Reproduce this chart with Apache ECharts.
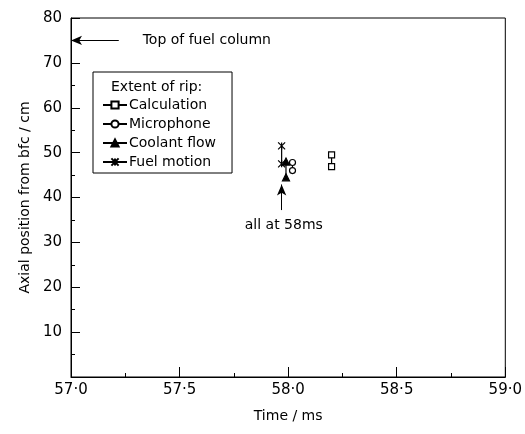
<!DOCTYPE html>
<html lang="en">

<head>
    <meta charset="UTF-8">
    <title>Extent of rip</title>
    <script src="https://cdn.jsdelivr.net/npm/echarts@6/dist/echarts.min.js"></script>
</head>

<body style="margin:0">
    <div id="main" style="width:525px; height:434px;"></div>
    <script type="text/javascript">
        var myChart = echarts.init(document.getElementById('main'));

        // x tick labels (the plot uses a raised decimal point)
        var timeLabels = ['57·0', '57·5', '58·0', '58·5', '59·0'];

        // each method gives a vertical extent [time, axial position]
        var calculation = [[58.20, 46.9], [58.20, 49.5]];
        var microphone = [[58.02, 46.0], [58.02, 47.8]];
        var coolantFlow = [[57.99, 44.5], [57.99, 48.0]];
        var fuelMotion = [[57.97, 47.5], [57.97, 51.5]];

        // annotations: arrows go from first point to second
        var fuelTop = [[57.22, 75], [57.0, 75]];
        var allAtArrow = [[57.97, 37.2], [57.97, 42.9]];
        var fuelTopNote = [57.33, 75, 'Top of fuel column'];
        var allAtNote = [57.98, 33.8, 'all at 58ms'];

        var font = 'DejaVu Sans';
        var crossPath = 'path://M0,0L10,10M10,0L0,10M5,0L5,10';

        function extent(name, data, symbol, size, fill) {
            return {
                name: name,
                type: 'line',
                data: data,
                symbol: symbol,
                symbolSize: size,
                lineStyle: { color: '#000', width: 1.2 },
                itemStyle: { color: fill, borderColor: '#000', borderWidth: 1.2 },
                z: 3
            };
        }

        function arrowLine(pts) {
            return [{ coord: pts[0] }, { coord: pts[1] }];
        }

        function note(d, align) {
            return {
                value: d,
                label: { align: align }
            };
        }

        myChart.setOption({
            backgroundColor: '#fff',
            animation: false,
            textStyle: { fontFamily: font, color: '#000' },
            grid: {
                left: 71,
                right: 17,
                top: 18,
                bottom: 57,
                show: true,
                borderColor: '#000',
                borderWidth: 1
            },
            legend: {
                orient: 'vertical',
                left: 93,
                top: 72,
                padding: [26, 16, 4, 9],
                itemWidth: 24,
                itemHeight: 9,
                itemGap: 5,
                borderColor: '#000',
                borderWidth: 1,
                borderRadius: 0,
                textStyle: { fontFamily: font, fontSize: 14, color: '#000', padding: [0, 0, 0, -3] },
                data: ['Calculation', 'Microphone', 'Coolant flow', 'Fuel motion']
            },
            graphic: [{
                type: 'text',
                left: 111,
                top: 80,
                style: { text: 'Extent of rip:', font: '14px "DejaVu Sans"', fill: '#000' }
            }],
            xAxis: {
                type: 'value',
                min: 57,
                max: 59,
                interval: 0.5,
                name: 'Time / ms',
                nameLocation: 'middle',
                nameGap: 32,
                nameTextStyle: { fontSize: 14, fontFamily: font },
                axisLine: { lineStyle: { color: '#000', width: 1 } },
                axisTick: { inside: true, length: 10, lineStyle: { color: '#000' } },
                minorTick: { show: true, splitNumber: 2, length: 4, lineStyle: { color: '#000' } },
                splitLine: { show: false },
                axisLabel: {
                    fontSize: 15,
                    color: '#000',
                    margin: 6,
                    formatter: function (v) {
                        return timeLabels[Math.round((v - 57) / 0.5)];
                    }
                }
            },
            yAxis: {
                type: 'value',
                min: 0,
                max: 80,
                interval: 10,
                name: 'Axial position from bfc / cm',
                nameLocation: 'middle',
                nameGap: 38,
                nameTextStyle: { fontSize: 14, fontFamily: font },
                axisLine: { lineStyle: { color: '#000', width: 1 } },
                axisTick: { inside: true, length: 9, lineStyle: { color: '#000' } },
                minorTick: { show: true, splitNumber: 2, length: 4, lineStyle: { color: '#000' } },
                splitLine: { show: false },
                axisLabel: {
                    fontSize: 15,
                    color: '#000',
                    margin: 9,
                    formatter: function (v) {
                        return v === 0 ? '' : v;
                    }
                }
            },
            series: [
                extent('Calculation', calculation, 'rect', 6, '#fff'),
                extent('Microphone', microphone, 'circle', 6, '#fff'),
                extent('Coolant flow', coolantFlow, 'triangle', 7, '#000'),
                extent('Fuel motion', fuelMotion, crossPath, 7, '#000'),
                {
                    name: 'notes',
                    type: 'scatter',
                    data: [note(fuelTopNote, 'left'), note(allAtNote, 'center')],
                    symbolSize: 0,
                    silent: true,
                    itemStyle: { opacity: 1 },
                    label: {
                        show: true,
                        fontSize: 14,
                        fontFamily: font,
                        color: '#000',
                        opacity: 1,
                        position: 'inside',
                        formatter: function (p) { return p.data.value[2]; }
                    },
                    markLine: {
                        silent: true,
                        symbol: ['none', 'arrow'],
                        symbolSize: [7, 11],
                        lineStyle: { color: '#000', width: 1, type: 'solid', opacity: 1 },
                        label: { show: false },
                        data: [arrowLine(fuelTop), arrowLine(allAtArrow)]
                    }
                }
            ]
        });
    </script>

</body>

</html>
